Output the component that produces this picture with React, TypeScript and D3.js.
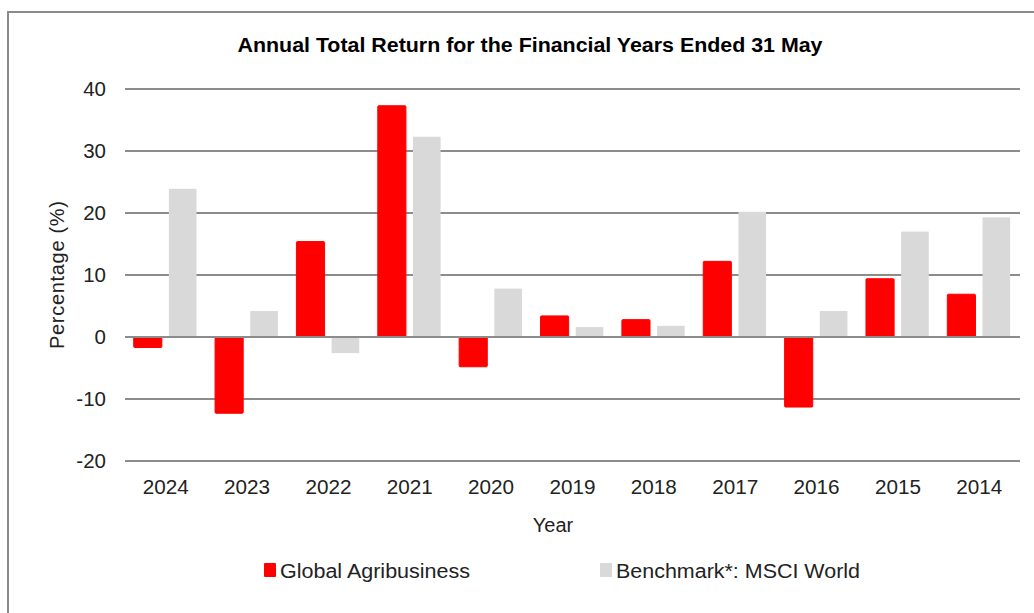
import React from "react";
import * as d3 from "d3";

const years = ["2024", "2023", "2022", "2021", "2020", "2019", "2018", "2017", "2016", "2015", "2014"];
const fundValues = [-1.7, -12.3, 15.4, 37.3, -4.8, 3.4, 2.8, 12.2, -11.3, 9.4, 6.9];
const benchValues = [23.9, 4.2, -2.6, 32.3, 7.8, 1.6, 1.8, 20.2, 4.2, 17.0, 19.3];
const yTicks = [-20, -10, 0, 10, 20, 30, 40];
const seriesNames = ["Global Agribusiness", "Benchmark*: MSCI World"];
const seriesColors = ["#FF0000", "#D9D9D9"];

const W = 1034;
const H = 613;
const plotLeft = 125;
const plotRight = 1020;
const plotTop = 89;
const plotBottom = 461;
const FONT = "'Liberation Sans', Arial, sans-serif";

export default function App() {
  const x0 = d3.scaleBand<string>().domain(years).range([plotLeft, plotRight]).padding(0);
  const x1 = d3
    .scaleBand<string>()
    .domain(["fund", "bench"])
    .range([x0.bandwidth() * 0.107, x0.bandwidth() * 0.885])
    .paddingInner(0.2)
    .paddingOuter(0);
  const y = d3.scaleLinear().domain([-20, 40]).range([plotBottom, plotTop]);

  return (
    <svg width={W} height={H} style={{ position: "absolute", left: 0, top: 0, background: "#fff" }}>
      <rect x={0} y={0} width={W} height={H} fill="#fff" />
      {/* outer border */}
      <line x1={8} x2={8} y1={11} y2={H + 5} stroke="#8a8a8a" strokeWidth={2} />
      <line x1={7} x2={W + 5} y1={12} y2={12} stroke="#8a8a8a" strokeWidth={2} />

      {/* title */}
      <text
        x={530}
        y={52}
        textAnchor="middle"
        fontFamily="'Liberation Sans Narrow', 'Liberation Sans', Arial, sans-serif"
        fontWeight="bold"
        fontSize={20}
        fill="#000"
        textLength={585}
        lengthAdjust="spacingAndGlyphs"
      >
        Annual  Total Return for the Financial  Years Ended 31 May
      </text>

      {/* gridlines */}
      {yTicks.map((t) => (
        <g key={t}>
          <line x1={plotLeft} x2={plotRight} y1={y(t)} y2={y(t)} stroke="#8c8c8c" strokeWidth={2} />
          <text x={106} y={y(t) + 7} textAnchor="end" fontFamily={FONT} fontSize={20.5} fill="#222">
            {t}
          </text>
        </g>
      ))}

      {/* bars */}
      {years.map((yr, i) => {
        const bx = x0(yr) as number;
        const f = fundValues[i];
        const b = benchValues[i];
        return (
          <g key={yr}>
            <rect
              x={bx + (x1("fund") as number)}
              y={Math.min(y(f), y(0))}
              width={x1.bandwidth()}
              height={Math.abs(y(f) - y(0))}
              fill={seriesColors[0]}
              stroke={seriesColors[0]}
              strokeWidth={1}
              rx={1}
            />
            <rect
              x={bx + (x1("bench") as number)}
              y={Math.min(y(b), y(0))}
              width={x1.bandwidth() - 0.5}
              height={Math.abs(y(b) - y(0))}
              fill={seriesColors[1]}
            />
          </g>
        );
      })}
      {/* zero line on top */}
      <line x1={plotLeft} x2={plotRight} y1={y(0)} y2={y(0)} stroke="#8c8c8c" strokeWidth={2} />

      {/* x labels */}
      {years.map((yr) => (
        <text
          key={yr}
          x={(x0(yr) as number) + x0.bandwidth() / 2}
          y={494}
          textAnchor="middle"
          fontFamily={FONT}
          fontSize={20}
          fill="#222"
          textLength={46}
          lengthAdjust="spacingAndGlyphs"
        >
          {yr}
        </text>
      ))}

      {/* axis titles */}
      <text x={553} y={532} textAnchor="middle" fontFamily={FONT} fontSize={20} fill="#222">
        Year
      </text>
      <text
        transform={`translate(64, ${(plotTop + plotBottom) / 2}) rotate(-90)`}
        textAnchor="middle"
        fontFamily={FONT}
        fontSize={20}
        fill="#222"
        textLength={148}
        lengthAdjust="spacing"
      >
        Percentage (%)
      </text>

      {/* legend */}
      <rect x={264} y={563} width={12} height={14} fill={seriesColors[0]} rx={1} />
      <text
        x={280}
        y={578}
        fontFamily={FONT}
        fontSize={20}
        fill="#222"
        textLength={190}
        lengthAdjust="spacingAndGlyphs"
      >
        {seriesNames[0]}
      </text>
      <rect x={600} y={563} width={12} height={14} fill={seriesColors[1]} />
      <text
        x={616}
        y={578}
        fontFamily={FONT}
        fontSize={20}
        fill="#222"
        textLength={244}
        lengthAdjust="spacingAndGlyphs"
      >
        {seriesNames[1]}
      </text>
    </svg>
  );
}
